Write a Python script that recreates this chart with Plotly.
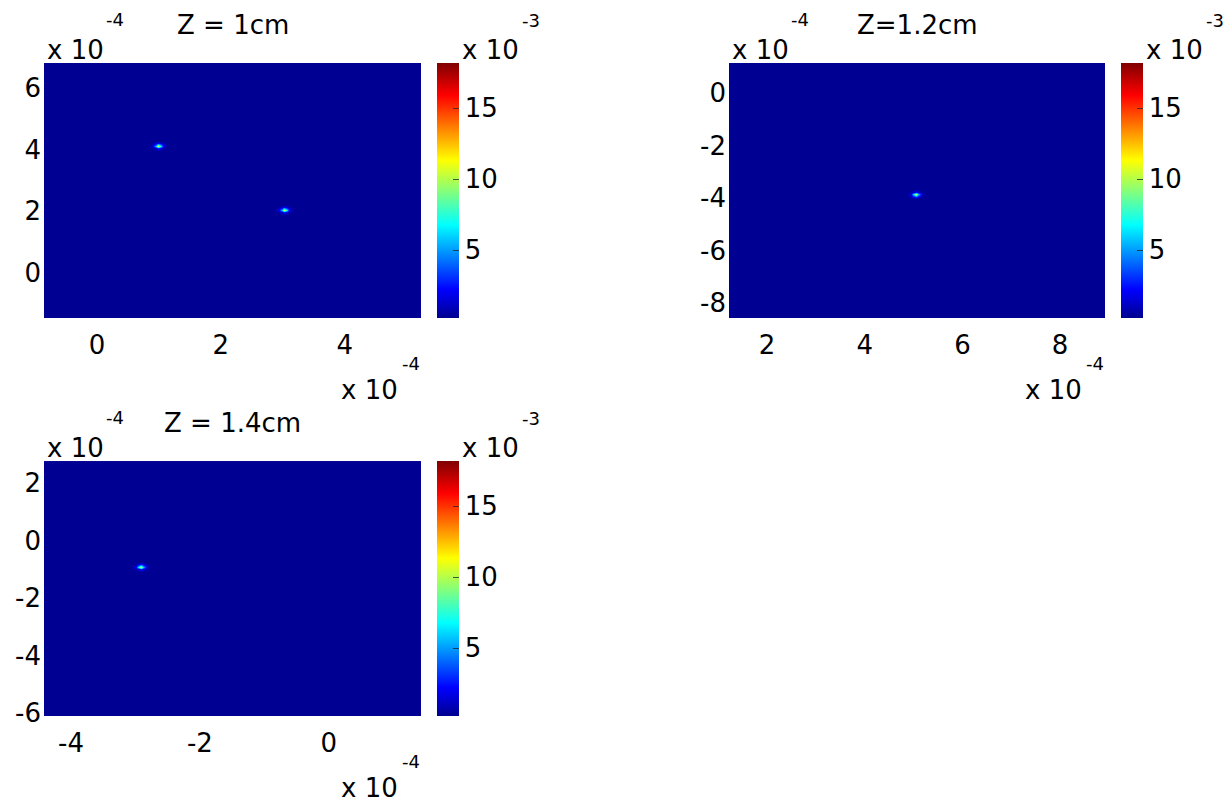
import numpy as np
import plotly.graph_objects as go

# ---------------- data (positions in units of 1e-4, intensity in units of 1e-3) -------------
TITLES = ["Z = 1cm", "Z=1.2cm", "Z = 1.4cm"]

P1_XLIM = [-0.855, 5.23]
P1_YLIM = [-1.46, 6.81]
P1_SPOT_X = [1.0, 3.0]
P1_SPOT_Y = [4.1, 2.05]
P1_SPOT_PEAK = [11.0, 10.8]
P1_XTICKS = [0, 2, 4]
P1_YTICKS = [0, 2, 4, 6]

P2_XLIM = [1.22, 8.92]
P2_YLIM = [-8.57, 1.14]
P2_SPOT_X = [5.03]
P2_SPOT_Y = [-3.85]
P2_SPOT_PEAK = [10.4]
P2_XTICKS = [2, 4, 6, 8]
P2_YTICKS = [-8, -6, -4, -2, 0]

P3_XLIM = [-4.42, 1.43]
P3_YLIM = [-6.1, 2.77]
P3_SPOT_X = [-2.9]
P3_SPOT_Y = [-0.91]
P3_SPOT_PEAK = [10.8]
P3_XTICKS = [-4, -2, 0]
P3_YTICKS = [-6, -4, -2, 0, 2]

BACKGROUND = 0.25          # x 1e-3
CBAR_RANGE = [0.2, 18.2]   # x 1e-3
CBAR_TICKS = [5, 10, 15]

# spot profile, relative to the peak (rows: below, centre, above)
SPOT_PROFILE = [
    [0.01, 0.04, 0.10, 0.22, 0.10, 0.04, 0.01],
    [0.05, 0.16, 0.55, 1.00, 0.55, 0.16, 0.05],
    [0.01, 0.04, 0.10, 0.22, 0.10, 0.04, 0.01],
]

NX, NY = 150, 100

# ---------------- helpers -------------
FONT = "DejaVu Sans"
W, H = 1228, 805
YC = 0.985  # vertical compression observed in the rendered page


def px_x(p):
    return p / W


def px_y(p):
    return 1 - (p / YC) / H


def build_grid(xlim, ylim, sx, sy, peaks):
    dx = (xlim[1] - xlim[0]) / NX
    dy = (ylim[1] - ylim[0]) / NY
    xs = xlim[0] + dx * (np.arange(NX) + 0.5)
    ys = ylim[0] + dy * (np.arange(NY) + 0.5)
    z = np.full((NY, NX), BACKGROUND)
    prof = np.array(SPOT_PROFILE)
    kh, kw = prof.shape
    for x0, y0, pk in zip(sx, sy, peaks):
        i = int(np.argmin(np.abs(xs - x0)))
        j = int(np.argmin(np.abs(ys - y0)))
        for r in range(kh):
            for c in range(kw):
                jj = j + r - kh // 2
                ii = i + c - kw // 2
                if 0 <= jj < NY and 0 <= ii < NX:
                    z[jj, ii] = max(z[jj, ii], BACKGROUND + (pk - BACKGROUND) * prof[r, c])
    return xs, ys, z


JET = [
    [0.0, "rgb(0,0,143)"],
    [7 / 63, "rgb(0,0,255)"],
    [23 / 63, "rgb(0,255,255)"],
    [39 / 63, "rgb(255,255,0)"],
    [55 / 63, "rgb(255,0,0)"],
    [1.0, "rgb(128,0,0)"],
]


def labels(vals):
    return [str(v) for v in vals]  # plain hyphen minus like the original


# panel geometry in pixels: (left, right, top, bottom), colorbar left
PANELS = [
    dict(xlim=P1_XLIM, ylim=P1_YLIM, sx=P1_SPOT_X, sy=P1_SPOT_Y, pk=P1_SPOT_PEAK,
         xt=P1_XTICKS, yt=P1_YTICKS, box=(44, 421, 63, 318), cb=437, title=TITLES[0]),
    dict(xlim=P2_XLIM, ylim=P2_YLIM, sx=P2_SPOT_X, sy=P2_SPOT_Y, pk=P2_SPOT_PEAK,
         xt=P2_XTICKS, yt=P2_YTICKS, box=(729, 1105, 63, 318), cb=1121, title=TITLES[1]),
    dict(xlim=P3_XLIM, ylim=P3_YLIM, sx=P3_SPOT_X, sy=P3_SPOT_Y, pk=P3_SPOT_PEAK,
         xt=P3_XTICKS, yt=P3_YTICKS, box=(44, 421, 461, 716), cb=437, title=TITLES[2]),
]

fig = go.Figure()
annotations = []
layout = {}


def ann(text, x, y, size, anchor="left"):
    annotations.append(dict(text=text, x=px_x(x), y=px_y(y), xref="paper", yref="paper",
                            showarrow=False, xanchor=anchor, yanchor="middle",
                            font=dict(family=FONT, size=size, color="black")))


for k, p in enumerate(PANELS, start=1):
    xs, ys, z = build_grid(p["xlim"], p["ylim"], p["sx"], p["sy"], p["pk"])
    l, r, t, b = p["box"]
    sfx = "" if k == 1 else str(k)
    fig.add_trace(go.Heatmap(
        x=xs, y=ys, z=z, xaxis="x" + sfx, yaxis="y" + sfx,
        colorscale=JET, zmin=CBAR_RANGE[0], zmax=CBAR_RANGE[1], zsmooth="best",
        colorbar=dict(
            x=px_x(p["cb"]), xanchor="left", xpad=0,
            y=px_y(t), yanchor="top", ypad=0,
            len=px_y(t) - px_y(b), lenmode="fraction",
            thickness=22, thicknessmode="pixels", outlinewidth=0,
            tickvals=CBAR_TICKS, ticktext=labels(CBAR_TICKS),
            ticks="inside", ticklen=6,
            tickcolor="rgba(40,40,40,0.8)", tickwidth=1,
            tickfont=dict(family=FONT, size=26, color="black"),
        ),
    ))
    axfont = dict(family=FONT, size=26, color="black")
    layout["xaxis" + sfx] = dict(
        domain=[px_x(l), px_x(r)], range=p["xlim"], anchor="y" + sfx,
        tickvals=p["xt"], ticktext=labels(p["xt"]),
        showgrid=False, zeroline=False, showline=False,
        ticks="", tickfont=axfont, ticklabelstandoff=9,
    )
    layout["yaxis" + sfx] = dict(
        domain=[px_y(b), px_y(t)], range=p["ylim"], anchor="x" + sfx,
        tickvals=p["yt"], ticktext=labels(p["yt"]),
        showgrid=False, zeroline=False, showline=False,
        ticks="", tickfont=axfont, ticklabelstandoff=2,
    )
    # title
    ann(p["title"], (l + r) / 2, t - 38, 26, anchor="center")
    # y multiplier
    ann("x 10", l + 1, t - 13, 26)
    ann("-4", l + 60, t - 44, 18)
    # colorbar multiplier
    ann("x 10", p["cb"] + 23, t - 13, 26)
    ann("-3", p["cb"] + 83, t - 43, 18)
    # x multiplier
    ann("x 10", r - 82, b + 72, 26)
    ann("-4", r - 21, b + 45, 18)

fig.update_layout(
    width=W, height=H,
    margin=dict(l=0, r=0, t=0, b=0),
    paper_bgcolor="white", plot_bgcolor="white",
    showlegend=False,
    annotations=annotations,
    **layout,
)

fig.write_html("out.html")
